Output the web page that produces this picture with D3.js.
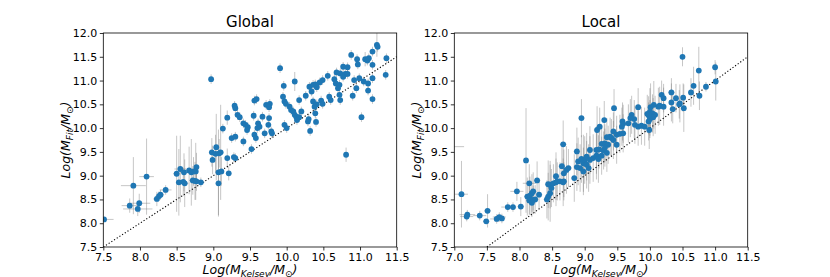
<!DOCTYPE html>
<html>
<head>
<meta charset="utf-8">
<script src="https://cdn.jsdelivr.net/npm/d3@7"></script>
<style>
  body { margin: 0; background: #fff; }
  svg { font-family: "DejaVu Sans", sans-serif; }
</style>
</head>
<body>
<div id="chart"></div>
<script>
const width = 830;
const height = 277;

// [x, y, xerr, yerr]
const globalPts = [
	[7.51, 8.08, 0.13, 0.05], [7.86, 8.37, 0.11, 0.15], [7.97, 8.30, 0.2, 0.15], [7.99, 8.42, 0.15, 0.2],
	[7.91, 8.79, 0.17, 0.6], [8.09, 8.98, 0.1, 0.8], [8.23, 8.51, 0.05, 0.15], [8.26, 8.57, 0.05, 0.1],
	[8.28, 8.60, 0.05, 0.1], [8.35, 8.70, 0.08, 0.1], [8.50, 9.04, 0.05, 0.8], [8.55, 9.14, 0.08, 0.7],
	[8.53, 8.86, 0.03, 0.7], [8.60, 9.07, 0.05, 0.4], [8.61, 8.84, 0.05, 0.5], [8.59, 8.87, 0.05, 0.3],
	[8.67, 9.11, 0.05, 0.5], [8.70, 9.07, 0.03, 0.7], [8.73, 9.09, 0.03, 0.3], [8.77, 9.18, 0.03, 0.3],
	[8.76, 9.09, 0.03, 0.6], [8.72, 8.90, 0.05, 0.3], [8.75, 8.89, 0.03, 0.4], [8.77, 8.88, 0.03, 0.2],
	[8.83, 8.86, 0.05, 0.1], [8.98, 9.49, 0.03, 0.3], [8.99, 9.33, 0.03, 0.3], [9.04, 9.60, 0.03, 0.7],
	[9.10, 9.49, 0.03, 1.0], [9.08, 9.47, 0.03, 0.3], [9.03, 9.46, 0.03, 0.4], [9.07, 9.07, 0.03, 0.9],
	[9.07, 8.84, 0.03, 0.7], [9.11, 9.09, 0.03, 0.3], [9.13, 9.99, 0.03, 0.1], [9.19, 9.37, 0.03, 0.2],
	[9.21, 9.05, 0.03, 0.15], [9.25, 9.79, 0.03, 0.1], [9.30, 9.82, 0.03, 0.1], [9.28, 9.39, 0.03, 0.1],
	[9.30, 9.37, 0.03, 0.1], [8.97, 11.03, 0.03, 0.1], [9.19, 10.22, 0.03, 0.15], [9.29, 10.47, 0.03, 0.1],
	[9.30, 10.42, 0.03, 0.1], [9.33, 10.28, 0.03, 0.1], [9.36, 10.23, 0.03, 0.1],
	[11.23, 11.75, 0.03, 0.25], [11.24, 11.71, 0.03, 0.1], [10.88, 11.54, 0.03, 0.1], [10.96, 11.45, 0.03, 0.1],
	[11.17, 11.61, 0.03, 0.1], [11.07, 11.45, 0.03, 0.15], [11.12, 11.47, 0.03, 0.1], [11.10, 11.42, 0.03, 0.1],
	[11.36, 11.47, 0.03, 0.1], [10.97, 11.34, 0.03, 0.1], [11.17, 11.33, 0.03, 0.1], [9.91, 11.26, 0.03, 0.1],
	[10.77, 11.29, 0.03, 0.1], [10.83, 11.28, 0.03, 0.1], [10.68, 11.17, 0.03, 0.1], [10.73, 11.15, 0.03, 0.1],
	[10.80, 11.14, 0.03, 0.1], [10.77, 11.08, 0.03, 0.1], [10.83, 11.14, 0.03, 0.1], [10.56, 11.10, 0.03, 0.1],
	[10.49, 11.01, 0.03, 0.1], [10.45, 10.96, 0.03, 0.1], [10.39, 10.92, 0.03, 0.1], [10.41, 10.86, 0.03, 0.1],
	[10.11, 10.98, 0.03, 0.2], [10.31, 10.87, 0.03, 0.1], [10.36, 10.91, 0.03, 0.1], [10.65, 11.03, 0.03, 0.1],
	[10.67, 10.94, 0.03, 0.1], [10.72, 10.91, 0.03, 0.1], [10.70, 10.84, 0.03, 0.1], [10.92, 11.01, 0.03, 0.1],
	[10.99, 11.05, 0.03, 0.1], [11.05, 10.98, 0.03, 0.1], [11.11, 10.94, 0.03, 0.1], [11.17, 11.05, 0.03, 0.1],
	[11.35, 11.12, 0.03, 0.1], [9.96, 10.89, 0.03, 0.1], [10.95, 10.84, 0.03, 0.1], [11.11, 10.79, 0.03, 0.1],
	[10.34, 10.77, 0.03, 0.1], [10.90, 10.68, 0.03, 0.1], [10.72, 10.70, 0.03, 0.1], [10.73, 10.59, 0.03, 0.1],
	[10.58, 10.66, 0.03, 0.1], [10.60, 10.59, 0.03, 0.1], [11.17, 10.61, 0.03, 0.1], [9.95, 10.66, 0.03, 0.1],
	[9.97, 10.56, 0.03, 0.1], [9.99, 10.51, 0.03, 0.1], [10.17, 10.59, 0.03, 0.1], [10.26, 10.68, 0.03, 0.1],
	[10.36, 10.56, 0.03, 0.1], [10.41, 10.50, 0.03, 0.1], [10.38, 10.45, 0.03, 0.1], [9.56, 10.58, 0.03, 0.1],
	[9.59, 10.61, 0.03, 0.1], [9.72, 10.49, 0.03, 0.1], [9.77, 10.51, 0.03, 0.1], [9.76, 10.44, 0.03, 0.1],
	[10.04, 10.45, 0.03, 0.1], [10.06, 10.38, 0.03, 0.1], [10.09, 10.35, 0.03, 0.1], [10.11, 10.28, 0.03, 0.1],
	[10.13, 10.24, 0.03, 0.1], [10.17, 10.23, 0.03, 0.1], [10.14, 10.17, 0.03, 0.1], [10.30, 10.19, 0.03, 0.1],
	[10.29, 10.14, 0.03, 0.1], [10.20, 10.35, 0.03, 0.1], [10.47, 10.58, 0.03, 0.1], [9.55, 10.26, 0.03, 0.1],
	[9.67, 10.24, 0.03, 0.1], [11.02, 10.23, 0.03, 0.1], [9.41, 10.10, 0.03, 0.1], [9.44, 10.07, 0.03, 0.1],
	[9.47, 10.02, 0.03, 0.1], [9.46, 9.96, 0.03, 0.1], [9.61, 10.10, 0.03, 0.1], [9.63, 10.03, 0.03, 0.1],
	[9.60, 10.00, 0.03, 0.1], [9.76, 10.21, 0.03, 0.1], [9.75, 10.07, 0.03, 0.1], [9.97, 10.07, 0.03, 0.1],
	[10.00, 10.00, 0.03, 0.1], [9.79, 9.93, 0.03, 0.1], [9.80, 9.89, 0.03, 0.1], [9.70, 9.89, 0.03, 0.1],
	[9.56, 9.86, 0.03, 0.1], [9.58, 9.79, 0.03, 0.1], [9.41, 9.72, 0.03, 0.1], [10.32, 9.94, 0.03, 0.1],
	[10.81, 9.44, 0.03, 0.15], [9.52, 9.56, 0.03, 0.1], [10.39, 10.31, 0.03, 0.1], [10.40, 10.13, 0.03, 0.1],
	[10.49, 10.51, 0.03, 0.1]
];

const localPts = [
	[6.95, 9.61, 0.2, 0.05], [7.11, 8.61, 0.1, 0.7], [7.20, 8.18, 0.12, 0.1], [7.19, 8.14, 0.1, 0.1],
	[7.39, 8.16, 0.1, 0.1], [7.49, 8.04, 0.05, 0.05], [7.51, 8.26, 0.05, 0.35], [7.65, 8.09, 0.1, 0.1],
	[7.69, 8.13, 0.1, 0.1], [7.73, 8.10, 0.05, 0.1], [7.82, 8.34, 0.1, 0.1], [7.90, 8.34, 0.05, 0.1],
	[8.02, 8.35, 0.05, 0.2], [7.96, 8.67, 0.1, 0.2], [8.10, 9.32, 0.03, 1.1], [8.15, 8.84, 0.1, 0.4],
	[8.12, 8.56, 0.05, 0.4], [8.16, 8.58, 0.05, 0.4], [8.19, 8.63, 0.05, 0.4], [8.21, 8.67, 0.05, 0.4],
	[8.15, 8.48, 0.05, 0.3], [8.21, 8.49, 0.05, 0.3], [8.24, 8.50, 0.05, 0.3], [8.19, 8.43, 0.05, 0.3],
	[8.27, 8.90, 0.05, 0.4], [8.30, 8.60, 0.05, 0.3], [8.42, 8.50, 0.05, 0.4], [8.44, 8.56, 0.05, 0.5],
	[8.47, 8.63, 0.05, 0.6], [8.47, 8.81, 0.05, 0.5], [8.49, 8.74, 0.05, 0.4], [8.44, 8.82, 0.05, 0.5],
	[8.52, 8.84, 0.05, 0.4], [8.56, 8.86, 0.05, 0.5], [8.58, 8.88, 0.05, 0.4], [8.62, 8.88, 0.05, 0.4],
	[8.67, 8.86, 0.05, 0.5], [8.56, 8.99, 0.05, 0.5], [8.65, 9.20, 0.05, 0.4], [8.67, 9.66, 0.05, 0.5],
	[8.68, 9.05, 0.05, 0.5], [8.72, 9.12, 0.05, 0.5], [8.75, 9.16, 0.05, 0.4], [8.68, 8.88, 0.05, 0.4],
	[8.84, 8.95, 0.05, 0.5], [8.88, 9.51, 0.05, 0.5], [8.90, 9.30, 0.05, 0.5], [8.95, 9.35, 0.05, 0.5],
	[8.98, 9.26, 0.05, 0.6], [9.00, 9.33, 0.05, 0.5], [8.93, 9.16, 0.05, 0.5], [8.88, 9.18, 0.05, 0.5],
	[8.95, 10.21, 0.05, 0.4], [9.03, 9.40, 0.05, 0.5], [9.08, 9.33, 0.05, 0.5], [9.13, 9.37, 0.05, 0.5],
	[9.18, 9.42, 0.05, 0.5], [9.21, 9.35, 0.05, 0.5], [9.08, 9.54, 0.05, 0.5], [9.19, 9.96, 0.05, 0.5],
	[9.18, 9.54, 0.05, 0.5], [9.03, 9.23, 0.05, 0.5], [9.06, 9.16, 0.05, 0.5], [8.98, 9.09, 0.05, 0.5],
	[10.50, 11.50, 0.03, 0.2], [11.00, 11.28, 0.03, 0.15], [10.75, 11.21, 0.03, 0.5], [11.01, 10.98, 0.03, 0.4],
	[10.86, 10.87, 0.03, 0.1], [10.67, 10.89, 0.03, 0.4], [10.63, 10.75, 0.03, 0.3], [10.76, 10.68, 0.03, 0.3],
	[10.33, 10.75, 0.05, 0.3], [10.18, 10.70, 0.03, 0.3], [10.21, 10.63, 0.03, 0.3], [10.40, 10.63, 0.03, 0.3],
	[10.51, 10.64, 0.03, 0.3], [10.33, 10.54, 0.03, 0.4], [10.46, 10.52, 0.03, 0.4], [10.52, 10.42, 0.03, 0.5],
	[10.06, 10.49, 0.03, 0.5], [10.13, 10.45, 0.03, 0.4], [10.15, 10.47, 0.03, 0.4], [10.01, 10.44, 0.03, 0.5],
	[10.00, 10.34, 0.03, 0.5], [10.04, 10.31, 0.03, 0.4], [10.08, 10.28, 0.03, 0.4], [9.96, 10.30, 0.03, 0.4],
	[10.05, 10.23, 0.03, 0.4], [10.00, 10.19, 0.03, 0.4], [9.98, 10.27, 0.03, 0.4], [10.21, 10.45, 0.03, 0.4],
	[9.82, 10.44, 0.03, 0.4], [9.72, 10.28, 0.03, 0.4], [9.76, 10.19, 0.03, 0.4], [9.70, 10.21, 0.03, 0.4],
	[9.67, 10.10, 0.03, 0.4], [9.77, 10.07, 0.03, 0.4], [9.82, 10.03, 0.03, 0.4], [9.87, 10.05, 0.03, 0.4],
	[9.92, 10.03, 0.03, 0.4], [9.98, 10.14, 0.03, 0.4], [9.99, 9.96, 0.03, 0.4], [9.45, 10.42, 0.03, 0.4],
	[9.58, 10.14, 0.03, 0.4], [9.59, 10.09, 0.03, 0.4], [9.57, 10.03, 0.03, 0.4], [9.30, 10.17, 0.03, 0.4],
	[9.23, 10.03, 0.03, 0.4], [9.44, 9.93, 0.03, 0.4], [9.49, 9.86, 0.03, 0.4], [9.54, 9.88, 0.03, 0.4],
	[9.59, 9.89, 0.03, 0.4], [9.39, 9.82, 0.03, 0.4], [9.41, 9.79, 0.03, 0.4], [9.34, 9.81, 0.03, 0.4],
	[9.44, 9.75, 0.03, 0.4], [9.31, 9.68, 0.03, 0.4], [9.26, 9.67, 0.03, 0.4], [9.36, 9.65, 0.03, 0.4],
	[9.49, 9.65, 0.03, 0.4], [9.22, 9.55, 0.03, 0.4], [9.29, 9.53, 0.03, 0.4], [9.26, 9.42, 0.03, 0.4],
	[9.34, 9.48, 0.03, 0.4], [9.31, 9.59, 0.03, 0.4], [10.35, 10.40, 0.05, 0.3], [10.45, 10.50, 0.03, 0.3]
];

const globalXTicks = [7.5, 8.0, 8.5, 9.0, 9.5, 10.0, 10.5, 11.0, 11.5];
const localXTicks = [7.0, 7.5, 8.0, 8.5, 9.0, 9.5, 10.0, 10.5, 11.0, 11.5];
const yTicks = [7.5, 8.0, 8.5, 9.0, 9.5, 10.0, 10.5, 11.0, 11.5, 12.0];

const svg = d3.select("#chart")
	.append("svg")
	.attr("width", width)
	.attr("height", height);

const fmt = d3.format(".1f");

function drawPanel(id, title, pts, xTicks, left, right) {
	const top = 33, bottom = 247;
	const x = d3.scaleLinear().domain([xTicks[0], xTicks[xTicks.length - 1]]).range([left, right]);
	const y = d3.scaleLinear().domain([7.5, 12.0]).range([bottom, top]);

	svg.append("clipPath").attr("id", "clip-" + id)
		.append("rect")
		.attr("x", left).attr("y", top)
		.attr("width", right - left).attr("height", bottom - top);

	const plot = svg.append("g").attr("clip-path", `url(#clip-${id})`);

	// error bars
	const err = plot.append("g")
		.attr("stroke", "#808080")
		.attr("stroke-opacity", 0.45)
		.attr("stroke-width", 1);
	err.selectAll(".ye").data(pts).enter().append("line")
		.attr("x1", d => x(d[0])).attr("x2", d => x(d[0]))
		.attr("y1", d => y(d[1] - d[3])).attr("y2", d => y(d[1] + d[3]));
	err.selectAll(".xe").data(pts).enter().append("line")
		.attr("y1", d => y(d[1])).attr("y2", d => y(d[1]))
		.attr("x1", d => x(d[0] - d[2])).attr("x2", d => x(d[0] + d[2]));

	// one-to-one line
	plot.append("line")
		.attr("x1", x(7.5)).attr("y1", y(7.5))
		.attr("x2", x(11.5)).attr("y2", y(11.5))
		.attr("stroke", "#000")
		.attr("stroke-width", 1.1)
		.attr("stroke-dasharray", "1.2,2");

	plot.append("g").selectAll("circle").data(pts).enter().append("circle")
		.attr("cx", d => x(d[0]))
		.attr("cy", d => y(d[1]))
		.attr("r", 2.9)
		.attr("fill", "#1f77b4");

	const xAxis = svg.append("g")
		.attr("transform", `translate(0,${bottom})`)
		.call(d3.axisBottom(x).tickValues(xTicks).tickFormat(fmt).tickSize(3.5).tickPadding(2.5));
	const yAxis = svg.append("g")
		.attr("transform", `translate(${left},0)`)
		.call(d3.axisLeft(y).tickValues(yTicks).tickFormat(fmt).tickSize(3.5).tickPadding(2.5));
	[xAxis, yAxis].forEach(a => {
		a.select(".domain").remove();
		a.selectAll("text").attr("font-size", 11).attr("fill", "#000")
			.attr("font-family", "DejaVu Sans");
		a.selectAll("line").attr("stroke", "#000").attr("stroke-width", 0.8);
	});

	svg.append("rect")
		.attr("x", left).attr("y", top)
		.attr("width", right - left).attr("height", bottom - top)
		.attr("fill", "none")
		.attr("stroke", "#000")
		.attr("stroke-width", 0.8);

	const cx = (left + right) / 2;
	svg.append("text")
		.attr("x", cx).attr("y", 27)
		.attr("text-anchor", "middle")
		.attr("font-size", 15)
		.text(title);

	// axis labels
	const xl = svg.append("text")
		.attr("x", cx).attr("y", 274)
		.attr("text-anchor", "middle")
		.attr("font-size", 12.5)
		.attr("font-style", "italic");
	xl.append("tspan").text("Log(M");
	xl.append("tspan").attr("font-size", 9).attr("dy", 3).text("Kelsey");
	xl.append("tspan").attr("dy", -3).text("/M");
	xl.append("tspan").attr("font-size", 9).attr("dy", 3).attr("font-style", "normal").text("\u2299");
	xl.append("tspan").attr("dy", -3).text(")");

	const yl = svg.append("text")
		.attr("transform", `translate(${left - 33},${(top + bottom) / 2}) rotate(-90)`)
		.attr("text-anchor", "middle")
		.attr("font-size", 12.5)
		.attr("font-style", "italic");
	yl.append("tspan").text("Log(M");
	yl.append("tspan").attr("font-size", 9).attr("dy", 3).text("Fit");
	yl.append("tspan").attr("dy", -3).text("/M");
	yl.append("tspan").attr("font-size", 9).attr("dy", 3).attr("font-style", "normal").text("\u2299");
	yl.append("tspan").attr("dy", -3).text(")");
}

drawPanel("global", "Global", globalPts, globalXTicks, 103.3, 396.7);
drawPanel("local", "Local", localPts, localXTicks, 454.3, 747.7);
</script>
</body>
</html>
